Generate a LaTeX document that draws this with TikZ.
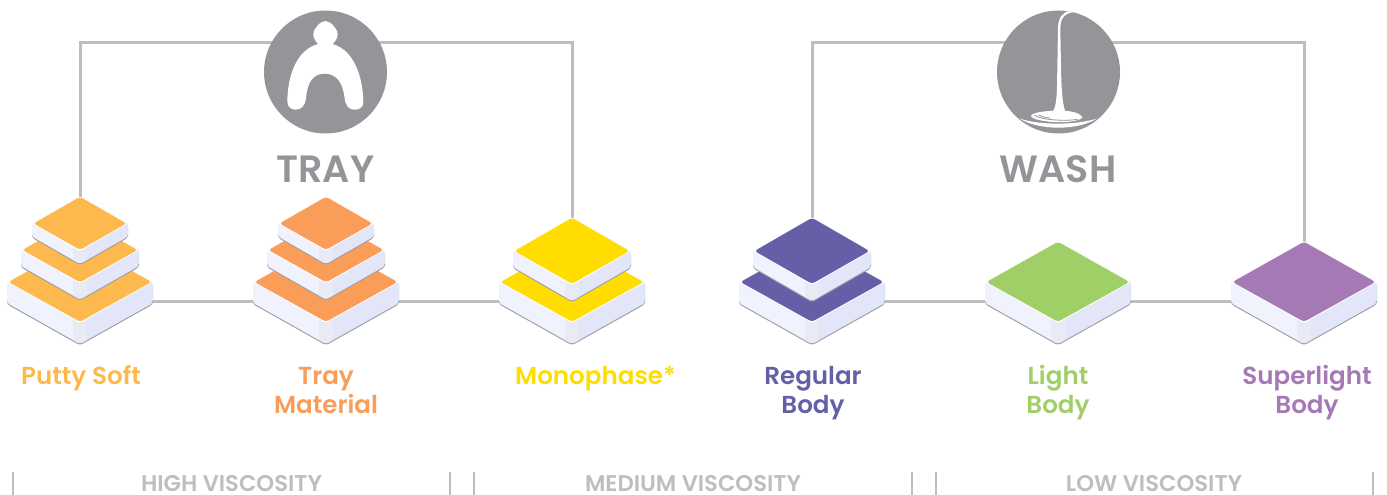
\documentclass[tikz,border=0pt]{standalone}
\usepackage{fontspec}
\setmainfont{Poppins}[BoldFont={Poppins SemiBold}]
\definecolor{cPutty}{HTML}{FDB94D}
\definecolor{cTray}{HTML}{FA9D59}
\definecolor{cMono}{HTML}{FFDD00}
\definecolor{cRegular}{HTML}{655FA8}
\definecolor{cLight}{HTML}{A0CF67}
\definecolor{cSuper}{HTML}{A579B5}
\definecolor{cIcon}{HTML}{939598}
\definecolor{cLine}{HTML}{BCBEC0}
\definecolor{cSideL}{HTML}{F0F2FE}
\definecolor{cSideR}{HTML}{E2E6F8}
\definecolor{cSideM}{HTML}{E8EAF5}
\definecolor{cShade}{HTML}{A0A0A6}
\tikzset{
  wire/.style={draw=cLine,line width=3pt},
  tick/.style={draw=cLine,line width=2.4pt},
  iconbg/.style={circle,fill=cIcon,minimum size=123pt,inner sep=0pt},
  prodlabel/.style={font=\fontsize{24.6}{29}\selectfont\bfseries,align=center,anchor=base},
  grouplabel/.style={font=\fontsize{38}{40}\selectfont\bfseries,text=cIcon,anchor=base},
  visclabel/.style={font=\fontsize{22.7}{24}\selectfont\bfseries,text=cLine,anchor=base,text depth=0pt,inner sep=0pt},
}
\newcommand{\slabpath}[3]{(-#1,0) -- (-#1,#3) -- (0,{#2+#3}) -- (#1,#3) -- (#1,0) -- (0,-#2) -- cycle}
% cx, cy, half width, half height, thickness, colour
\newcommand{\slab}[6]{%
\begin{scope}[shift={(#1,#2)}]
  \fill[cShade,rounded corners=3pt,yshift=-1.3pt] \slabpath{#3}{#4}{#5};
  \begin{scope}
    \clip[rounded corners=3pt] \slabpath{#3}{#4}{#5};
    \fill[cSideL] (-#3,-#4) rectangle (0,{#4+#5+2});
    \fill[cSideR] (0,-#4) rectangle (#3,{#4+#5+2});
    \fill[cSideM] (-7,{#4-6}) -- (0,#4) -- (7,{#4-6}) -- (7,{#4+#5-3}) -- (0,{#4+#5+2}) -- (-7,{#4+#5-3}) -- cycle;
  \end{scope}
  \fill[white,rounded corners=3pt] (-#3,0) -- (0,-#4) -- (#3,0) -- (0,#4) -- cycle;
  \fill[#6,rounded corners=3pt] ({-#3+1.5},0) -- (0,{-#4+0.8}) -- ({#3-1.5},0) -- (0,{#4-1.2}) -- cycle;
\end{scope}}
\begin{document}
\begin{tikzpicture}[x=1pt,y=-1pt]
\useasboundingbox (0,0) rectangle (1387,495);
% anchors for the connectors
\coordinate (putty) at (80,301);
\coordinate (tray) at (326,301);
\coordinate (mono) at (572,301);
\coordinate (regular) at (812,301);
\coordinate (light) at (1058,301);
\coordinate (super) at (1304,301);
\coordinate (trayline) at (326,43);
\coordinate (washline) at (1058,43);
% connectors
\draw[wire] (putty) -- (tray);
\draw[wire] (tray) -- (mono);
\draw[wire] (regular) -- (light);
\draw[wire] (light) -- (super);
\draw[wire] (putty) |- (trayline) -| (mono);
\draw[wire] (regular) |- (washline) -| (super);
% icons
\node[iconbg] (trayicon) at (325.5,72) {};
\node[iconbg] (washicon) at (1058.5,72) {};
\begin{scope}[shift={(250,0)},scale=1/3]
  \fill[white] (226,63) .. controls (212,63) and (190,85) .. (190,103)
    .. controls (190,115) and (198,125) .. (204,132)
    .. controls (140,150) and (113,225) .. (112,305)
    .. controls (112,322) and (125,329) .. (137,329)
    .. controls (155,329) and (164,318) .. (168,295)
    .. controls (172,245) and (190,221) .. (224,221)
    .. controls (258,221) and (278,245) .. (284,295)
    .. controls (287,318) and (296,329) .. (314,329)
    .. controls (328,329) and (341,322) .. (340,305)
    .. controls (338,225) and (310,150) .. (248,132)
    .. controls (255,125) and (263,115) .. (263,103)
    .. controls (263,85) and (240,63) .. (226,63) -- cycle;
\end{scope}
\begin{scope}[shift={(985,0)},scale=1/3]
  \clip (220.5,216) circle (184.5);
  % stream and pool
  \fill[white] (258,30) .. controls (232,38) and (222,50) .. (219,80) -- (217,200)
    .. controls (216,270) and (216,315) .. (205,332)
    .. controls (175,334) and (140,338) .. (138,348)
    .. controls (145,368) and (275,375) .. (292,352)
    .. controls (288,340) and (262,334) .. (240,332)
    .. controls (232,310) and (229,260) .. (228,200) -- (226,90)
    .. controls (226,60) and (232,42) .. (266,36) -- cycle;
  \draw[cIcon,line width=0.8pt] (150,346) .. controls (165,360) and (240,364) .. (278,358);
  \draw[cIcon,line width=0.8pt] (160,345) .. controls (170,350) and (180,353) .. (195,354);
  % rim of the bowl
  \fill[white] (105,356) .. controls (165,376) and (270,376) .. (335,356)
    .. controls (280,392) and (160,392) .. (105,356) -- cycle;
\end{scope}
% slabs
\slab{80}{282}{73}{41}{21}{cPutty}
\slab{80}{250}{59}{33.5}{16}{cPutty}
\slab{80}{223.5}{48}{27.5}{13}{cPutty}
\slab{326}{282}{73}{41}{21}{cTray}
\slab{326}{250}{59}{33.5}{16}{cTray}
\slab{326}{223.5}{48}{27.5}{13}{cTray}
\slab{572}{282}{73}{41}{21}{cMono}
\slab{572}{251}{59}{34}{16}{cMono}
\slab{812}{282}{73}{41}{21}{cRegular}
\slab{812}{251}{59}{34}{16}{cRegular}
\slab{1058}{282}{73}{41}{21}{cLight}
\slab{1304}{282}{73}{41}{21}{cSuper}
% labels
\node[grouplabel] (traytitle) at (325.5,182) {TRAY};
\node[grouplabel] (washtitle) at (1058,182) {WASH};
\node[prodlabel,text=cPutty] (lputty) at (81,384) {Putty Soft};
\node[prodlabel,text=cTray] (ltray) at (326,413) {Tray\\Material};
\node[prodlabel,text=cMono] (lmono) at (595.5,384) {Monophase*};
\node[prodlabel,text=cRegular] (lregular) at (813,413) {Regular\\Body};
\node[prodlabel,text=cLight] (llight) at (1058,413) {Light\\Body};
\node[prodlabel,text=cSuper] (lsuper) at (1307,413) {Superlight\\Body};
% viscosity bar
\draw[tick] (13,472) -- (13,495);
\draw[tick] (450,472) -- (450,495);
\draw[tick] (474,472) -- (474,495);
\draw[tick] (912,472) -- (912,495);
\draw[tick] (936,472) -- (936,495);
\draw[tick] (1373,472) -- (1373,495);
\node[visclabel] (vhigh) at (231.5,491) {HIGH VISCOSITY};
\node[visclabel] (vmed) at (693,491) {MEDIUM VISCOSITY};
\node[visclabel] (vlow) at (1154,491) {LOW VISCOSITY};
\end{tikzpicture}
\end{document}
